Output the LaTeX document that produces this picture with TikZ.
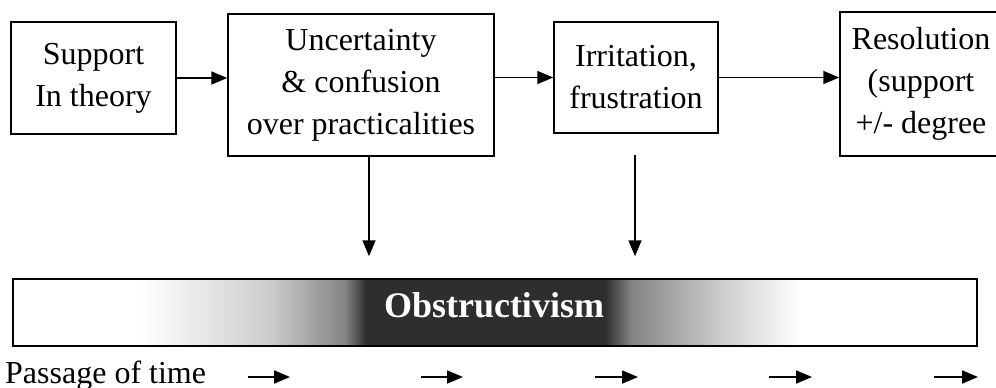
\documentclass[tikz,border=0pt]{standalone}
\usepackage{fontspec}
\setmainfont{Liberation Serif}
\usetikzlibrary{arrows.meta,calc}
\begin{document}
\begin{tikzpicture}[x=1pt,y=-1pt,
  box/.style={draw,line width=1.5pt,rectangle,align=center,inner sep=0pt,font=\fontsize{32}{42}\selectfont},
  arr/.style={line width=1.8pt,-{Triangle[length=16pt,width=13pt]}},
  lbl/.style={font=\fontsize{32}{42}\selectfont,inner sep=0pt}]
\clip (0,0) rectangle (996,388);
\fill[white] (0,0) rectangle (996,388);
% boxes
\node[box,minimum width=165pt,minimum height=112pt] (b1) at (93.5,78) {Support\\In theory};
\node[box,minimum width=266pt,minimum height=142pt] (b2) at (361,85) {Uncertainty\\\& confusion\\over practicalities};
\node[box,minimum width=164pt,minimum height=111pt] (b3) at (636,77.5) {Irritation,\\frustration};
\node[box,minimum width=162pt,minimum height=144pt] (b4) at (921,84) {Resolution\\(support\\+/- degree};
% horizontal connectors
\draw[arr] (b1.east) -- (b1.east -| b2.west);
\draw[arr] (b3.west -| b2.east) -- (b3.west);
\draw[arr] (b3.east) -- (b3.east -| b4.west);
% obstructivism bar shading
\shade[left color=white,right color=black!20] (140,279) rectangle (270,346);
\shade[left color=black!20,right color=black!48] (270,279) rectangle (345,346);
\shade[left color=black!48,right color=black!82] (345,279) rectangle (366,346);
\fill[black!82] (366,279) rectangle (605,346);
\shade[left color=black!82,right color=black!48] (605,279) rectangle (632,346);
\shade[left color=black!48,right color=black!20] (632,279) rectangle (720,346);
\shade[left color=black!20,right color=white] (720,279) rectangle (800,346);
\node[draw,line width=1.5pt,minimum width=964pt,minimum height=67pt,inner sep=0pt] (bar) at (495,312.5) {};
\node[font=\fontsize{36}{40}\selectfont\bfseries,text=white,anchor=base,inner sep=0pt] (obs) at (494,317) {Obstructivism};
% vertical connectors
\coordinate (x1) at (369,0);
\coordinate (x2) at (635,0);
\draw[arr,shorten >=22pt] (b2.south -| x1) -- (bar.north -| x1);
\draw[arr,shorten <=21pt,shorten >=22pt] (b3.south -| x2) -- (bar.north -| x2);
% passage of time
\node[lbl,anchor=base west] (pt) at (5,383) {Passage of time};
\coordinate (t1a) at (248,377); \coordinate (t1b) at (290,377);
\coordinate (t2a) at (421,377); \coordinate (t2b) at (463,377);
\coordinate (t3a) at (595,377); \coordinate (t3b) at (638,377);
\coordinate (t4a) at (769,377); \coordinate (t4b) at (812,377);
\coordinate (t5a) at (934,377); \coordinate (t5b) at (978,377);
\foreach \i in {1,...,5} \draw[arr] (t\i a) -- (t\i b);
\end{tikzpicture}
\end{document}
